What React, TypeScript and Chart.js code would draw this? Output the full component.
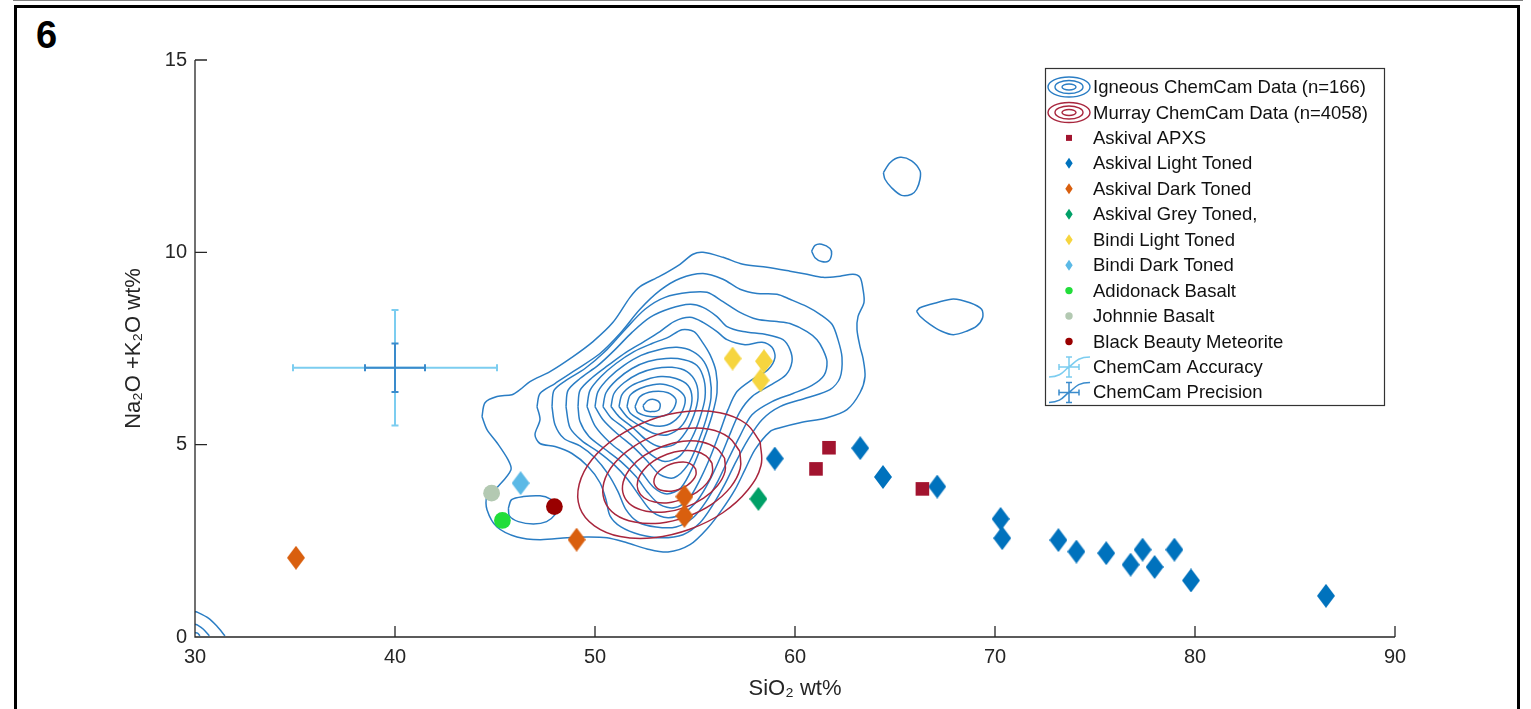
import React, { useEffect, useRef } from 'react';
import { Chart, registerables } from 'chart.js';

Chart.register(...registerables);

const FONT = '"Liberation Sans", Arial, Helvetica, sans-serif';

const X_MIN = 30, X_MAX = 90, Y_MIN = 0, Y_MAX = 15;
const xTickValues = [30, 40, 50, 60, 70, 80, 90];
const yTickValues = [0, 5, 10, 15];

// ---- point data (SiO2, Na2O+K2O) ----
const askivalApxs = [[61.05, 4.37], [61.7, 4.92], [66.37, 3.85]];
const askivalLight = [[58.99, 4.64], [63.26, 4.91], [64.4, 4.16], [67.11, 3.91], [70.28, 3.07], [70.36, 2.57], [73.17, 2.52], [74.07, 2.22], [75.56, 2.18], [76.78, 1.88], [77.38, 2.27], [77.98, 1.82], [78.97, 2.27], [79.8, 1.47], [86.55, 1.07]];
const askivalDark = [[35.05, 2.06], [54.47, 3.65], [54.47, 3.15], [49.08, 2.53]];
const askivalGrey = [[58.17, 3.59]];
const bindiLight = [[56.88, 7.24], [58.45, 7.17], [58.28, 6.67]];
const bindiDark = [[46.28, 4.0]];
const adirondack = [[45.37, 3.03]];
const johnnie = [[44.83, 3.74]];
const blackBeauty = [[47.97, 3.39]];

// ChemCam error bars: centre, accuracy (±x, ±y), precision (±x, ±y)
const errCenter = [40, 7.0];
const accuracyErr = [5.1, 1.5];
const precisionErr = [1.5, 0.63];

// ---- Igneous ChemCam density contours (outer -> inner) ----
const igneous1 = [[44.35, 5.73], [44.5, 6.09], [45.1, 6.25], [45.85, 6.3], [46.25, 6.43], [46.75, 6.64], [47.75, 6.9], [48.9, 7.29], [49.9, 7.68], [50.9, 8.18], [51.75, 8.83], [52.25, 9.11], [53.25, 9.38], [54.25, 9.69], [54.9, 9.95], [55.4, 10.0], [56.4, 9.87], [57.4, 9.69], [58.6, 9.61], [59.75, 9.51], [60.6, 9.43], [61.4, 9.35], [62.25, 9.38], [62.9, 9.43], [63.25, 9.35], [63.4, 9.04], [63.45, 8.7], [63.15, 8.33], [63.1, 7.99], [63.25, 7.55], [63.4, 7.25], [63.5, 6.77], [63.25, 6.35], [62.6, 5.91], [61.6, 5.7], [60.25, 5.57], [59.25, 5.44], [58.75, 5.34], [58.0, 4.87], [57.5, 4.35], [57.0, 3.83], [56.35, 3.31], [55.65, 2.84], [54.75, 2.4], [53.65, 2.21], [52.6, 2.29], [51.6, 2.45], [50.6, 2.58], [49.6, 2.6], [48.6, 2.58], [47.25, 2.53], [46.1, 2.6], [45.1, 2.86], [44.6, 3.31], [44.6, 3.65], [45.15, 3.91], [45.8, 4.35], [45.65, 4.61], [45.1, 5.05], [44.6, 5.39]];
const igneous2 = [[47.1, 5.99], [47.25, 6.33], [48.0, 6.59], [49.0, 6.93], [50.25, 7.37], [51.25, 7.89], [52.25, 8.52], [53.25, 9.01], [54.25, 9.32], [55.4, 9.45], [56.4, 9.3], [57.25, 9.04], [58.1, 8.93], [59.1, 8.91], [59.75, 8.78], [60.6, 8.59], [61.25, 8.39], [61.85, 8.13], [62.15, 7.73], [62.35, 7.27], [62.25, 6.74], [61.75, 6.43], [60.6, 6.22], [59.25, 5.99], [58.35, 5.65], [57.65, 5.13], [57.05, 4.56], [56.5, 3.98], [55.9, 3.44], [55.25, 2.97], [54.4, 2.66], [53.35, 2.58], [52.25, 2.66], [51.3, 2.86], [50.75, 3.15], [50.55, 3.57], [50.25, 4.01], [49.65, 4.43], [48.85, 4.77], [48.0, 4.95], [47.25, 5.03], [47.0, 5.26], [47.25, 5.65]];
const igneous3 = [[47.85, 5.99], [47.95, 6.41], [48.55, 6.67], [49.5, 6.98], [50.5, 7.42], [51.5, 7.99], [52.5, 8.52], [53.5, 8.83], [54.75, 8.96], [55.6, 8.96], [56.4, 8.72], [57.25, 8.44], [58.1, 8.26], [59.1, 8.2], [59.75, 8.15], [60.6, 7.94], [61.1, 7.73], [61.4, 7.47], [61.6, 7.16], [61.45, 6.8], [60.85, 6.54], [59.9, 6.33], [58.85, 6.12], [57.85, 5.78], [57.25, 5.23], [56.7, 4.66], [56.15, 4.06], [55.55, 3.52], [54.9, 3.1], [54.05, 2.86], [53.05, 2.86], [52.15, 2.99], [51.55, 3.31], [51.15, 3.78], [50.65, 4.24], [50.0, 4.66], [49.25, 4.97], [48.45, 5.16], [48.0, 5.52]];
const igneous4 = [[48.55, 5.99], [48.65, 6.41], [49.25, 6.72], [50.15, 7.06], [51.0, 7.47], [51.85, 7.92], [52.75, 8.31], [53.75, 8.54], [54.75, 8.65], [55.4, 8.57], [56.1, 8.33], [56.6, 8.07], [57.4, 7.94], [58.6, 7.86], [59.4, 7.73], [59.75, 7.47], [59.85, 7.16], [59.55, 6.82], [58.75, 6.54], [57.85, 6.25], [57.25, 5.86], [56.8, 5.34], [56.3, 4.71], [55.75, 4.09], [55.15, 3.57], [54.45, 3.23], [53.65, 3.1], [52.85, 3.26], [52.25, 3.65], [51.65, 4.09], [50.95, 4.48], [50.15, 4.82], [49.35, 5.1], [48.75, 5.44]];
const igneous5 = [[49.15, 5.99], [49.25, 6.41], [49.85, 6.74], [50.65, 7.06], [51.55, 7.4], [52.45, 7.68], [53.25, 7.94], [53.95, 8.2], [54.75, 8.31], [55.4, 8.18], [56.1, 7.94], [56.6, 7.73], [57.5, 7.6], [58.35, 7.66], [58.85, 7.53], [59.0, 7.27], [58.65, 6.95], [57.85, 6.69], [57.1, 6.38], [56.65, 5.91], [56.25, 5.34], [55.75, 4.66], [55.2, 4.04], [54.65, 3.57], [53.95, 3.36], [53.25, 3.44], [52.65, 3.75], [52.05, 4.17], [51.3, 4.56], [50.45, 4.9], [49.7, 5.21], [49.25, 5.6]];
const igneous6 = [[49.6, 5.99], [49.75, 6.41], [50.3, 6.77], [51.05, 7.11], [51.95, 7.42], [52.85, 7.63], [53.65, 7.79], [54.35, 7.99], [54.95, 7.94], [55.35, 7.68], [55.75, 7.34], [56.05, 6.9], [56.1, 6.35], [55.85, 5.76], [55.4, 5.08], [54.9, 4.43], [54.3, 3.88], [53.6, 3.72], [52.95, 3.88], [52.3, 4.3], [51.6, 4.69], [50.75, 5.05], [50.0, 5.49]];
const igneous7 = [[50.0, 5.99], [50.15, 6.38], [50.7, 6.74], [51.45, 7.06], [52.3, 7.32], [53.2, 7.47], [54.1, 7.53], [54.9, 7.42], [55.45, 7.16], [55.75, 6.74], [55.8, 6.22], [55.55, 5.65], [55.15, 5.05], [54.65, 4.48], [53.95, 4.14], [53.25, 4.22], [52.55, 4.61], [51.85, 4.97], [51.1, 5.29], [50.4, 5.65]];
const igneous8 = [[50.4, 5.99], [50.55, 6.35], [51.1, 6.69], [51.85, 6.98], [52.65, 7.16], [53.55, 7.24], [54.45, 7.21], [55.1, 7.06], [55.45, 6.69], [55.5, 6.22], [55.25, 5.7], [54.85, 5.18], [54.25, 4.71], [53.5, 4.56], [52.8, 4.74], [52.15, 5.1], [51.45, 5.44], [50.8, 5.7]];
const igneous9 = [[50.8, 5.99], [50.95, 6.33], [51.45, 6.61], [52.2, 6.85], [53.0, 6.98], [53.85, 7.01], [54.6, 6.9], [55.05, 6.61], [55.15, 6.22], [54.95, 5.78], [54.55, 5.34], [53.95, 5.0], [53.2, 4.95], [52.55, 5.13], [51.9, 5.44], [51.2, 5.73]];
const igneous10 = [[51.2, 5.99], [51.35, 6.3], [51.85, 6.54], [52.55, 6.69], [53.3, 6.77], [54.05, 6.72], [54.65, 6.54], [54.85, 6.22], [54.7, 5.83], [54.3, 5.47], [53.65, 5.26], [52.95, 5.29], [52.3, 5.47], [51.65, 5.7]];
const igneous11 = [[51.6, 5.99], [51.75, 6.28], [52.25, 6.46], [52.9, 6.56], [53.55, 6.56], [54.15, 6.43], [54.5, 6.22], [54.4, 5.91], [54.05, 5.65], [53.45, 5.49], [52.75, 5.52], [52.15, 5.68], [51.75, 5.83]];
const igneous12 = [[52.0, 5.99], [52.25, 6.25], [52.9, 6.38], [53.65, 6.35], [54.05, 6.17], [53.9, 5.91], [53.5, 5.76], [52.75, 5.73], [52.15, 5.83]];
const igneous13 = [[52.4, 6.02], [52.65, 6.15], [53.0, 6.17], [53.25, 6.07], [53.2, 5.91], [52.85, 5.86], [52.5, 5.89]];
const igneousLoop = [[45.67, 3.35], [45.83, 3.57], [46.42, 3.65], [47.25, 3.67], [47.75, 3.59], [48.12, 3.38], [48.0, 3.18], [47.58, 3.0], [46.92, 2.94], [46.17, 3.0], [45.72, 3.15]];
const igneousIslandA = [[64.42, 12.07], [64.75, 12.33], [65.25, 12.47], [65.83, 12.38], [66.25, 12.12], [66.25, 11.9], [66.08, 11.64], [65.83, 11.51], [65.33, 11.48], [64.83, 11.68], [64.5, 11.9]];
const igneousIslandB = [[60.83, 10.03], [61.0, 10.18], [61.33, 10.21], [61.75, 10.1], [61.83, 9.95], [61.67, 9.77], [61.33, 9.76], [61.0, 9.86]];
const igneousIslandC = [[66.08, 8.47], [66.25, 8.56], [67.08, 8.69], [67.92, 8.79], [68.75, 8.69], [69.33, 8.52], [69.38, 8.3], [69.08, 8.08], [68.58, 7.95], [67.92, 7.86], [67.33, 7.95], [66.75, 8.13], [66.25, 8.34]];
const igneousCornerOuter = [[30.0, 0.66], [30.13, 0.64], [30.67, 0.49], [31.08, 0.29], [31.5, 0.03]];
const igneousCornerMid = [[30.0, 0.33], [30.13, 0.31], [30.42, 0.2], [30.72, 0.03]];
const igneousCornerInner = [[30.0, 0.11], [30.13, 0.1], [30.25, 0.03]];

// ---- Murray ChemCam density contours (outer -> inner) ----
const murray5 = [[58.26, 5.07], [57.54, 5.55], [56.24, 5.83], [54.56, 5.86], [52.76, 5.64], [51.11, 5.2], [49.86, 4.62], [49.21, 3.97], [49.24, 3.36], [49.97, 2.89], [51.26, 2.61], [52.94, 2.58], [54.74, 2.8], [56.39, 3.23], [57.64, 3.82], [58.3, 4.46]];
const murray4 = [[57.24, 4.83], [56.69, 5.19], [55.72, 5.4], [54.46, 5.42], [53.11, 5.26], [51.87, 4.93], [50.93, 4.49], [50.44, 4.01], [50.47, 3.55], [51.01, 3.19], [51.98, 2.99], [53.24, 2.96], [54.6, 3.13], [55.83, 3.45], [56.77, 3.89], [57.26, 4.38]];
const murray3 = [[56.48, 4.65], [56.07, 4.91], [55.35, 5.07], [54.41, 5.09], [53.4, 4.96], [52.47, 4.72], [51.77, 4.39], [51.41, 4.03], [51.43, 3.69], [51.83, 3.42], [52.56, 3.27], [53.5, 3.25], [54.51, 3.37], [55.43, 3.61], [56.13, 3.94], [56.5, 4.3]];
const murray2 = [[55.85, 4.52], [55.55, 4.71], [55.02, 4.83], [54.33, 4.84], [53.6, 4.75], [52.92, 4.57], [52.41, 4.33], [52.14, 4.07], [52.15, 3.82], [52.45, 3.62], [52.98, 3.51], [53.67, 3.49], [54.41, 3.59], [55.08, 3.76], [55.6, 4.0], [55.87, 4.27]];
const murray1 = [[55.04, 4.36], [54.87, 4.47], [54.58, 4.54], [54.19, 4.54], [53.77, 4.49], [53.4, 4.39], [53.11, 4.26], [52.96, 4.11], [52.97, 3.97], [53.13, 3.86], [53.43, 3.8], [53.82, 3.79], [54.23, 3.84], [54.61, 3.94], [54.9, 4.08], [55.05, 4.22]];

const legendLabels = [
  'Igneous ChemCam Data (n=166)',
  'Murray ChemCam Data (n=4058)',
  'Askival APXS',
  'Askival Light Toned',
  'Askival Dark Toned',
  'Askival Grey Toned,',
  'Bindi Light Toned',
  'Bindi Dark Toned',
  'Adidonack Basalt',
  'Johnnie Basalt',
  'Black Beauty Meteorite',
  'ChemCam Accuracy',
  'ChemCam Precision',
];

const C_IGN = '#2a7dc4';
const C_MUR = '#a8263d';
const C_APXS = '#a2142f';
const C_LIGHT = '#0072bd';
const C_DARK = '#d95f0e';
const C_GREY = '#00a067';
const C_BINDI_L = '#f6d53f';
const C_BINDI_D = '#5bb9e6';
const C_ADI = '#22dd3a';
const C_JOHN = '#b3c9b2';
const C_BB = '#990000';
const C_ACC = '#7ccdf0';
const C_PREC = '#3a8bcc';

function makeDiamond(color: string, w: number, h: number) {
  const c = document.createElement('canvas');
  c.width = w;
  c.height = h;
  const g = c.getContext('2d')!;
  g.fillStyle = color;
  g.beginPath();
  g.moveTo(w / 2, 0);
  g.lineTo(w, h / 2);
  g.lineTo(w / 2, h);
  g.lineTo(0, h / 2);
  g.closePath();
  g.fill();
  return c;
}

const toXY = (pts: number[][]) => pts.map(([x, y]) => ({ x, y }));

function contour(pts: number[][], color: string, closed = true, tension = 0.3) {
  return {
    data: toXY(closed ? [...pts, pts[0]] : pts),
    showLine: true,
    pointRadius: 0,
    borderColor: color,
    borderWidth: 1.5,
    tension,
    fill: false,
    order: 2,
  };
}

function markers(pts: number[][], style: any, color: string, radius: number) {
  return {
    data: toXY(pts),
    showLine: false,
    pointStyle: style,
    pointRadius: radius,
    pointBackgroundColor: color,
    pointBorderColor: color,
    pointBorderWidth: 0,
    order: 0,
  };
}

export default function App() {
  const ref = useRef<HTMLCanvasElement>(null);

  useEffect(() => {
    const canvas = ref.current!;
    const dLight = makeDiamond(C_LIGHT, 18, 24);
    const dDark = makeDiamond(C_DARK, 18, 24);
    const dGrey = makeDiamond(C_GREY, 18, 24);
    const dBindiL = makeDiamond(C_BINDI_L, 18, 24);
    const dBindiD = makeDiamond(C_BINDI_D, 18, 24);

    const datasets: any[] = [
      markers(askivalApxs, 'rect', C_APXS, 9.6),
      markers(askivalLight, dLight, C_LIGHT, 9),
      markers(askivalDark, dDark, C_DARK, 9),
      markers(askivalGrey, dGrey, C_GREY, 9),
      markers(bindiLight, dBindiL, C_BINDI_L, 9),
      markers(bindiDark, dBindiD, C_BINDI_D, 9),
      markers(adirondack, 'circle', C_ADI, 8.4),
      markers(johnnie, 'circle', C_JOHN, 8.4),
      markers(blackBeauty, 'circle', C_BB, 8.4),
      contour(murray1, C_MUR, true, 0.4),
      contour(murray2, C_MUR, true, 0.4),
      contour(murray3, C_MUR, true, 0.4),
      contour(murray4, C_MUR, true, 0.4),
      contour(murray5, C_MUR, true, 0.4),
      contour(igneous1, C_IGN),
      contour(igneous2, C_IGN),
      contour(igneous3, C_IGN),
      contour(igneous4, C_IGN),
      contour(igneous5, C_IGN),
      contour(igneous6, C_IGN),
      contour(igneous7, C_IGN),
      contour(igneous8, C_IGN),
      contour(igneous9, C_IGN),
      contour(igneous10, C_IGN),
      contour(igneous11, C_IGN),
      contour(igneous12, C_IGN),
      contour(igneous13, C_IGN),
      contour(igneousLoop, C_IGN),
      contour(igneousIslandA, C_IGN),
      contour(igneousIslandB, C_IGN),
      contour(igneousIslandC, C_IGN),
      contour(igneousCornerOuter, C_IGN, false),
      contour(igneousCornerMid, C_IGN, false),
      contour(igneousCornerInner, C_IGN, false),
    ];

    const decor = {
      id: 'decor',
      afterDraw(chart: any) {
        const ctx = chart.ctx as CanvasRenderingContext2D;
        const xs = chart.scales.x;
        const ys = chart.scales.y;
        const px = (v: number) => xs.getPixelForValue(v);
        const py = (v: number) => ys.getPixelForValue(v);
        ctx.save();

        // axes (MATLAB style, box off, ticks inward)
        ctx.strokeStyle = '#262626';
        ctx.lineWidth = 1.3;
        ctx.beginPath();
        ctx.moveTo(px(X_MIN), py(Y_MAX));
        ctx.lineTo(px(X_MIN), py(Y_MIN));
        ctx.lineTo(px(X_MAX), py(Y_MIN));
        xTickValues.forEach((v) => {
          ctx.moveTo(px(v), py(Y_MIN));
          ctx.lineTo(px(v), py(Y_MIN) - 11);
        });
        yTickValues.forEach((v) => {
          ctx.moveTo(px(X_MIN), py(v));
          ctx.lineTo(px(X_MIN) + 12, py(v));
        });
        ctx.stroke();

        // error bars
        const drawErr = (ex: number, ey: number, color: string, cap: number) => {
          const cx = px(errCenter[0]);
          const cy = py(errCenter[1]);
          const xl = px(errCenter[0] - ex), xr = px(errCenter[0] + ex);
          const yt = py(errCenter[1] + ey), yb = py(errCenter[1] - ey);
          ctx.strokeStyle = color;
          ctx.lineWidth = 2;
          ctx.beginPath();
          ctx.moveTo(xl, cy); ctx.lineTo(xr, cy);
          ctx.moveTo(xl, cy - cap); ctx.lineTo(xl, cy + cap);
          ctx.moveTo(xr, cy - cap); ctx.lineTo(xr, cy + cap);
          ctx.moveTo(cx, yt); ctx.lineTo(cx, yb);
          ctx.moveTo(cx - cap, yt); ctx.lineTo(cx + cap, yt);
          ctx.moveTo(cx - cap, yb); ctx.lineTo(cx + cap, yb);
          ctx.stroke();
        };
        drawErr(accuracyErr[0], accuracyErr[1], C_ACC, 3.5);
        drawErr(precisionErr[0], precisionErr[1], C_PREC, 3.5);

        // legend
        const bx = 1045.5, by = 68.5, bw = 339, bh = 337;
        ctx.fillStyle = '#ffffff';
        ctx.fillRect(bx, by, bw, bh);
        ctx.strokeStyle = '#333333';
        ctx.lineWidth = 1.2;
        ctx.strokeRect(bx, by, bw, bh);
        const iconX = 1069;
        const textX = 1093;
        const row0 = 87;
        const rowH = 25.45;
        ctx.font = `18.5px ${FONT}`;
        ctx.textBaseline = 'middle';
        ctx.textAlign = 'left';
        legendLabels.forEach((label, i) => {
          const y = row0 + i * rowH;
          if (i <= 1) {
            ctx.strokeStyle = i === 0 ? C_IGN : C_MUR;
            ctx.lineWidth = 1.4;
            [[21, 10], [14, 6.5], [7, 3]].forEach(([rx, ry]) => {
              ctx.beginPath();
              ctx.ellipse(iconX, y, rx, ry, 0, 0, Math.PI * 2);
              ctx.stroke();
            });
          } else if (i === 2) {
            ctx.fillStyle = C_APXS;
            ctx.fillRect(iconX - 3, y - 3, 6, 6);
          } else if (i >= 3 && i <= 7) {
            const col = [C_LIGHT, C_DARK, C_GREY, C_BINDI_L, C_BINDI_D][i - 3];
            ctx.fillStyle = col;
            ctx.beginPath();
            ctx.moveTo(iconX, y - 5.5);
            ctx.lineTo(iconX + 3.7, y);
            ctx.lineTo(iconX, y + 5.5);
            ctx.lineTo(iconX - 3.7, y);
            ctx.closePath();
            ctx.fill();
          } else if (i >= 8 && i <= 10) {
            ctx.fillStyle = [C_ADI, C_JOHN, C_BB][i - 8];
            ctx.beginPath();
            ctx.arc(iconX, y, 3.7, 0, Math.PI * 2);
            ctx.fill();
          } else {
            const col = i === 11 ? C_ACC : C_PREC;
            ctx.strokeStyle = col;
            ctx.lineWidth = 1.5;
            ctx.beginPath();
            ctx.moveTo(1049, y + 10);
            ctx.bezierCurveTo(1062, y + 10, 1064, y + 3, 1069, y);
            ctx.bezierCurveTo(1074, y - 3, 1076, y - 10, 1090, y - 10);
            ctx.moveTo(iconX, y - 10); ctx.lineTo(iconX, y + 10);
            ctx.moveTo(iconX - 3, y - 10); ctx.lineTo(iconX + 3, y - 10);
            ctx.moveTo(iconX - 3, y + 10); ctx.lineTo(iconX + 3, y + 10);
            ctx.moveTo(iconX - 10, y); ctx.lineTo(iconX + 10, y);
            ctx.moveTo(iconX - 10, y - 3); ctx.lineTo(iconX - 10, y + 3);
            ctx.moveTo(iconX + 10, y - 3); ctx.lineTo(iconX + 10, y + 3);
            ctx.stroke();
          }
          ctx.fillStyle = '#111111';
          ctx.fillText(label, textX, y + 1);
        });
        ctx.restore();
      },
    };

    const chart = new Chart(canvas, {
      type: 'scatter',
      data: { datasets },
      options: {
        responsive: false,
        animation: false,
        devicePixelRatio: 1,
        events: [],
        layout: { padding: { left: 0, top: 60, right: 136, bottom: 0 } },
        plugins: {
          legend: { display: false },
          tooltip: { enabled: false },
          title: { display: false },
        },
        scales: {
          x: {
            type: 'linear',
            min: X_MIN,
            max: X_MAX,
            afterBuildTicks: (s: any) => {
              s.ticks = xTickValues.map((v) => ({ value: v }));
            },
            grid: { display: false, drawTicks: false },
            border: { display: false },
            ticks: { font: { family: FONT, size: 20 }, color: '#262626', padding: 8, maxRotation: 0, autoSkip: false },
            title: {
              display: true,
              text: 'SiO₂ wt%',
              font: { family: FONT, size: 22 },
              color: '#262626',
              padding: { top: 0, bottom: 7 },
            },
            afterFit: (s: any) => {
              s.height = 72;
            },
          },
          y: {
            type: 'linear',
            min: Y_MIN,
            max: Y_MAX,
            afterBuildTicks: (s: any) => {
              s.ticks = yTickValues.map((v) => ({ value: v }));
            },
            grid: { display: false, drawTicks: false },
            border: { display: false },
            ticks: { font: { family: FONT, size: 20 }, color: '#262626', padding: 8, autoSkip: false },
            title: {
              display: true,
              text: 'Na₂O +K₂O wt%',
              font: { family: FONT, size: 22 },
              color: '#262626',
              padding: { top: 121, bottom: 0 },
            },
            afterFit: (s: any) => {
              s.width = 195;
            },
          },
        },
      } as any,
      plugins: [decor],
    } as any);

    return () => chart.destroy();
  }, []);

  return (
    <div style={{ position: 'fixed', left: 0, top: 0, width: 1531, height: 709, overflow: 'hidden', background: '#ffffff' }}>
      <div style={{ position: 'absolute', left: 13, top: 0, width: 1510, height: 1, background: '#808080' }} />
      <div
        style={{
          position: 'absolute',
          left: 14,
          top: 5,
          width: 1506,
          height: 760,
          border: '3px solid #000',
          boxSizing: 'border-box',
        }}
      />
      <div
        style={{
          position: 'absolute',
          left: 36,
          top: 16,
          font: `bold 38px ${FONT}`,
          lineHeight: '38px',
          color: '#000',
        }}
      >
        6
      </div>
      <canvas ref={ref} width={1531} height={709} style={{ position: 'absolute', left: 0, top: 0, width: 1531, height: 709 }} />
    </div>
  );
}
